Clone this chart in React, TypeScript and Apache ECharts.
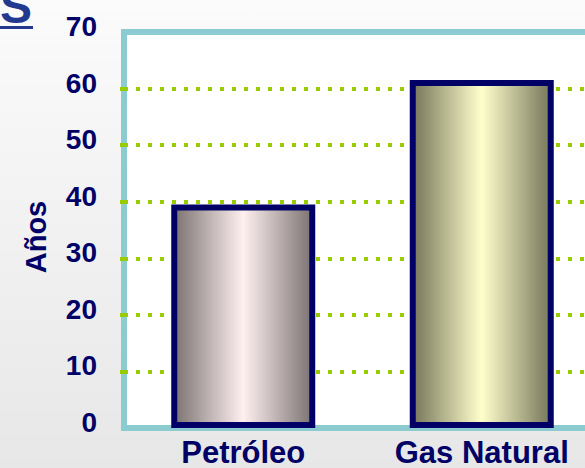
import React, { useEffect, useRef } from "react";
import * as echarts from "echarts";

// Years of remaining reserves per fuel
const categories = ["Petróleo", "Gas Natural"];
const years = [39.5, 61.5];
const yMin = 0;
const yMax = 70;
const yStep = 10;

const NAVY = "#000066";
const BORDER = "#8ccbd0";
const GRID_GREEN = "#99cc00";
const TITLE_BLUE = "#23398f";
const FONT = "'Liberation Sans', Arial, sans-serif";

// Horizontal "cylinder" shading for each bar: dark edges, light centre
const barShades = [
  { edge: "#7b7272", mid: "#fff0f0" },
  { edge: "#76765a", mid: "#ffffcc" },
];

export default function App() {
  const ref = useRef<HTMLDivElement>(null);

  useEffect(() => {
    if (!ref.current) return;
    const chart = echarts.init(ref.current, null, { renderer: "svg" });

    // Dotted guides only between the framed min and max
    const innerTicks: number[] = [];
    for (let v = yMin + yStep; v < yMax; v += yStep) innerTicks.push(v);

    chart.setOption({
      animation: false,
      backgroundColor: new echarts.graphic.LinearGradient(0, 0, 0, 1, [
        { offset: 0, color: "#fbfbfb" },
        { offset: 1, color: "#e7e7e7" },
      ]),
      textStyle: { fontFamily: FONT },
      grid: {
        left: 124,
        top: 32,
        width: 477,
        height: 400,
        show: true,
        backgroundColor: "#ffffff",
        borderColor: BORDER,
        borderWidth: 6,
      },
      xAxis: {
        type: "category",
        data: categories,
        axisLine: { show: false },
        axisTick: { show: false },
        axisLabel: {
          color: NAVY,
          fontWeight: "bold",
          fontSize: 31,
          margin: 9,
          fontFamily: FONT,
        },
      },
      yAxis: {
        type: "value",
        min: yMin,
        max: yMax,
        interval: yStep,
        axisLine: { show: false },
        axisTick: {
          show: true,
          length: 8,
          customValues: innerTicks,
          lineStyle: { color: GRID_GREEN, width: 4, type: [4, 8] },
        },
        axisLabel: {
          color: NAVY,
          fontWeight: "bold",
          fontSize: 28,
          margin: 27,
          verticalAlign: "bottom",
          lineHeight: 11,
          fontFamily: FONT,
        },
        splitLine: {
          show: true,
          lineStyle: { color: GRID_GREEN, width: 4, type: [4, 8], cap: "butt" },
        },
      },
      graphic: [
        {
          type: "text",
          x: 36,
          y: 237,
          rotation: Math.PI / 2,
          style: {
            text: "Años",
            fill: NAVY,
            font: `bold 29px ${FONT}`,
            align: "center",
            verticalAlign: "middle",
          },
        },
        {
          type: "text",
          x: 0,
          y: 6,
          z: 10,
          style: {
            text: "S",
            fill: TITLE_BLUE,
            font: `bold 48px ${FONT}`,
            align: "left",
            verticalAlign: "middle",
          },
        },
        {
          type: "line",
          z: 10,
          shape: { x1: 0, y1: 27.5, x2: 33, y2: 27.5 },
          style: { stroke: TITLE_BLUE, lineWidth: 3 },
        },
      ],
      series: [
        {
          type: "bar",
          barWidth: 144,
          data: years.map((v, i) => ({
            value: v,
            itemStyle: {
              color: new echarts.graphic.LinearGradient(0, 0, 1, 0, [
                { offset: 0, color: barShades[i].edge },
                { offset: 0.5, color: barShades[i].mid },
                { offset: 1, color: barShades[i].edge },
              ]),
              borderColor: NAVY,
              borderWidth: 6,
            },
          })),
        },
      ],
    });

    return () => chart.dispose();
  }, []);

  // The plot frame runs past the right edge, so the chart is wider than its clipping box
  return (
    <div
      style={{
        position: "fixed",
        left: 0,
        top: 0,
        width: 585,
        height: 468,
        overflow: "hidden",
      }}
    >
      <div ref={ref} style={{ width: 620, height: 468 }} />
    </div>
  );
}
